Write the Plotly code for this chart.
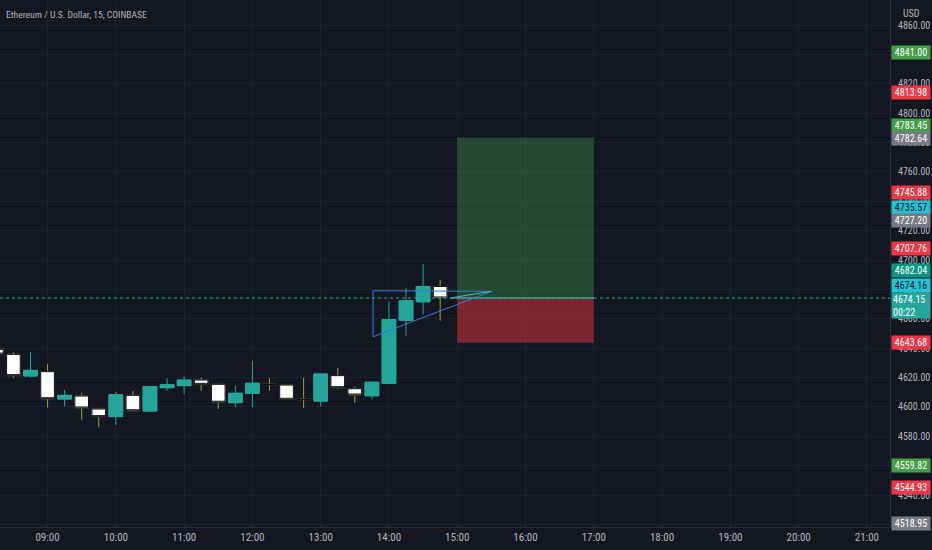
import plotly.graph_objects as go

# candles (15 min)
day = "2021-11-09 "
times = ["08:15", "08:30", "08:45", "09:00", "09:15", "09:30", "09:45", "10:00", "10:15",
         "10:30", "10:45", "11:00", "11:15", "11:30", "11:45", "12:00", "12:15", "12:30",
         "12:45", "13:00", "13:15", "13:30", "13:45", "14:00", "14:15", "14:30", "14:45"]
opens = [4639.2, 4635.8, 4621.1, 4624.0, 4605.4, 4607.4, 4598.6, 4593.4, 4607.9,
         4597.2, 4613.1, 4614.5, 4618.3, 4615.4, 4602.9, 4609.3, 4615.5, 4614.9,
         4605.3, 4604.0, 4621.3, 4612.4, 4607.6, 4616.1, 4659.0, 4671.6, 4682.0]
highs = [4640.0, 4637.2, 4637.2, 4629.2, 4611.5, 4609.7, 4599.5, 4610.2, 4610.9,
         4614.3, 4619.7, 4620.6, 4619.9, 4615.6, 4614.3, 4631.5, 4619.5, 4615.2,
         4619.9, 4622.6, 4626.7, 4613.8, 4617.0, 4671.6, 4680.8, 4697.3, 4686.4]
lows = [4635.0, 4619.9, 4619.9, 4599.5, 4600.2, 4591.1, 4586.1, 4587.7, 4596.8,
        4597.0, 4611.1, 4608.8, 4610.9, 4598.6, 4599.8, 4599.8, 4611.1, 4605.0,
        4599.1, 4600.2, 4612.0, 4602.9, 4605.2, 4616.0, 4648.5, 4663.1, 4658.7]
closes = [4636.0, 4621.3, 4624.9, 4605.6, 4607.9, 4599.3, 4593.4, 4608.3, 4597.4,
          4613.8, 4615.1, 4618.3, 4615.4, 4603.2, 4609.3, 4616.1, 4615.2, 4605.2,
          4605.0, 4622.4, 4613.1, 4608.1, 4616.8, 4659.4, 4672.3, 4682.0, 4674.15]

# drawings
tri_times = ["13:46", "15:30", "13:46", "13:46"]
tri_prices = [4679.1, 4678.7, 4647.8, 4679.1]
side_times = ["14:54", "15:30"]
side_prices = [4674.2, 4678.7]

# long position tool
pos_start, pos_end = "15:00", "17:00"
entry, target, stop = 4674.16, 4783.45, 4643.68
last_price = 4674.15
countdown = "00:22"

# price scale labels
label_values = [4841.00, 4813.98, 4783.45, 4782.64, 4745.88, 4735.57, 4727.20,
                4707.76, 4682.04, 4674.16, 4643.68, 4559.82, 4544.93, 4518.95]
label_colors = ["#43a047", "#f23645", "#43a047", "#787b86", "#f23645", "#22c3d6", "#787b86",
                "#f23645", "#089981", "#22c3d6", "#f23645", "#43a047", "#f23645", "#787b86"]
label_shift = [0, 0, 12, 0, 0, 0, 0, 0, 16, 13, 0, 0, 0, 3]

BG = "#131722"
GRID = "#1d212c"
TXT = "#b2b5be"
FONT = "Liberation Sans Narrow, Arial Narrow, Roboto Condensed, sans-serif"
UP = "#26a69a"

x = [day + t for t in times]

fig = go.Figure()

# wicks
fig.add_trace(go.Candlestick(
    x=x, open=opens, high=highs, low=lows, close=closes,
    increasing=dict(line=dict(color=UP, width=1), fillcolor=UP),
    decreasing=dict(line=dict(color="#a09c45", width=1), fillcolor="#ffffff"),
    hoverinfo="skip", showlegend=False
))
# bodies on top
body_hi = [max(o, c) for o, c in zip(opens, closes)]
body_lo = [min(o, c) for o, c in zip(opens, closes)]
fig.add_trace(go.Candlestick(
    x=x, open=opens, high=body_hi, low=body_lo, close=closes,
    increasing=dict(line=dict(color=UP, width=1), fillcolor=UP),
    decreasing=dict(line=dict(color="#0c0f15", width=1), fillcolor="#ffffff"),
    showlegend=False
))

fig.add_trace(go.Scatter(
    x=[day + t for t in tri_times], y=tri_prices, mode="lines",
    line=dict(color="#2f7ed8", width=1), hoverinfo="skip", showlegend=False
))
fig.add_trace(go.Scatter(
    x=[day + t for t in side_times], y=side_prices, mode="lines",
    line=dict(color="#4db6ac", width=1), hoverinfo="skip", showlegend=False
))

# position boxes
fig.add_shape(type="rect", x0=day + pos_start, x1=day + pos_end, y0=entry, y1=target,
              fillcolor="rgba(76,175,80,0.33)", line_width=0, layer="between")
fig.add_shape(type="rect", x0=day + pos_start, x1=day + pos_end, y0=stop, y1=entry,
              fillcolor="rgba(242,54,69,0.48)", line_width=0, layer="between")
fig.add_shape(type="line", x0=day + side_times[0], x1=day + pos_end, y0=entry, y1=entry,
              line=dict(color=UP, width=1.5))
# last price line
fig.add_shape(type="line", xref="paper", x0=0, x1=1, y0=last_price, y1=last_price,
              line=dict(color=UP, width=1, dash="dot"))

for v, c, s in zip(label_values, label_colors, label_shift):
    fig.add_annotation(
        xref="paper", x=1, xanchor="left", xshift=1, y=v, yref="y", yshift=s,
        text=f"{v:.2f}", showarrow=False, width=36, height=11, borderpad=1,
        bgcolor=c, font=dict(family=FONT, size=10,
                             color="#131722" if c == "#22c3d6" else "#ffffff")
    )
fig.add_annotation(
    xref="paper", x=1, xanchor="left", xshift=1, y=last_price, yref="y", yshift=-7,
    text=f"{last_price:.2f}<br>{countdown}", showarrow=False, width=36, height=23,
    borderpad=1, bgcolor=UP, align="left", font=dict(family=FONT, size=10, color="#ffffff")
)
fig.add_annotation(xref="paper", x=1, xanchor="center", xshift=21, yref="paper", y=1,
                   yanchor="top", yshift=-6, text="USD", showarrow=False,
                   font=dict(family=FONT, size=10, color=TXT))
fig.add_annotation(xref="paper", x=0, xanchor="left", xshift=4, yref="paper", y=1,
                   yanchor="middle", yshift=-14, text="Ethereum / U.S. Dollar, 15, COINBASE",
                   showarrow=False, font=dict(family=FONT, size=9.6, color=TXT))

fig.update_layout(
    width=932, height=550,
    margin=dict(l=0, r=42, t=0, b=23),
    paper_bgcolor=BG, plot_bgcolor=BG,
    boxgap=0.2, boxgroupgap=0,
    hovermode=False,
    font=dict(family=FONT, color=TXT),
    xaxis=dict(
        type="date", range=[day + "08:18:12", day + "21:20:18"],
        tick0=day + "09:00", dtick=3600000, tickformat="%H:%M",
        showgrid=True, gridcolor=GRID, zeroline=False,
        showline=True, linecolor="#2a2e39", ticks="",
        tickfont=dict(family=FONT, size=11, color=TXT),
        rangeslider=dict(visible=False)
    ),
    yaxis=dict(
        side="right", range=[4518.27, 4877.02], dtick=20, tickformat=".2f",
        showgrid=True, gridcolor=GRID, zeroline=False,
        showline=True, linecolor="#2a2e39", ticks="", ticklabelstandoff=5,
        tickfont=dict(family=FONT, size=10, color=TXT)
    )
)

fig.write_html("out.html", config={"displayModeBar": False},
               post_script="document.body.style.margin='0';"
                           "document.body.style.background='#131722';"
                           "document.body.style.overflow='hidden';")
